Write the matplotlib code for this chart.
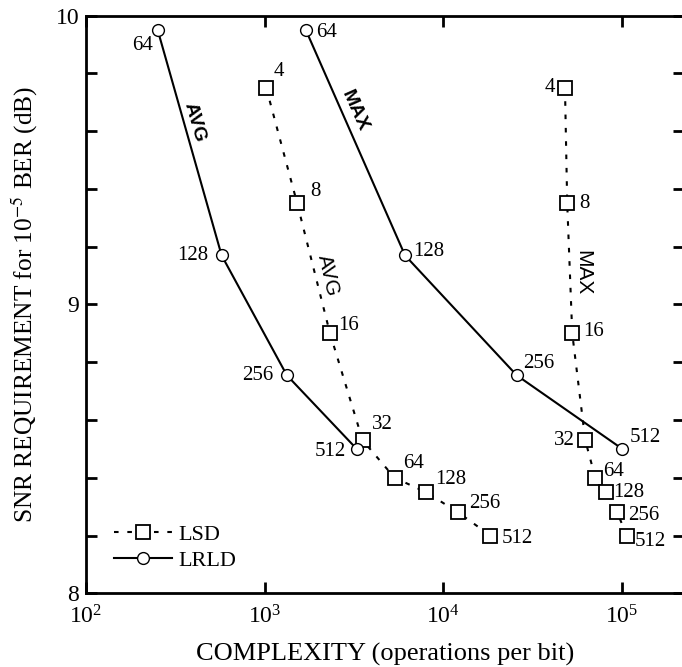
import matplotlib
matplotlib.use("Agg")
import matplotlib.pyplot as plt
from matplotlib.ticker import FixedLocator, NullLocator, LogLocator, LogFormatterMathtext

plt.rcParams["font.family"] = ["Liberation Serif", "DejaVu Serif"]
plt.rcParams["mathtext.fontset"] = "stix"

# data
lsd_labels = ["4", "8", "16", "32", "64", "128", "256", "512"]
lsd_snr = [9.75, 9.35, 8.90, 8.53, 8.40, 8.35, 8.28, 8.20]
lsd_avg_cx = [1020, 1520, 2320, 3530, 5330, 8000, 12100, 18300]
lsd_max_cx = [47900, 49300, 52600, 62200, 70800, 81600, 94000, 106000]

lrld_labels = ["64", "128", "256", "512"]
lrld_snr = [9.95, 9.17, 8.755, 8.50]
lrld_avg_cx = [252, 574, 1330, 3270]
lrld_max_cx = [1700, 6100, 25700, 100200]

# label offsets in pixels (dx, dy, ha)
lrld_avg_off = [(-5, -15, "right"), (-13, 0, "right"), (-13, 0, "right"), (-11, -3, "right")]
lrld_max_off = [(10, -2, "left"), (8, 4, "left"), (6, 12, "left"), (7, 11, "left")]
lsd_avg_off = [(7, 16, "left"), (13, 12, "left"), (8, 8, "left"), (9, 16, "left"),
               (9, 14, "left"), (9, 13, "left"), (11, 9, "left"), (11, -3, "left")]
lsd_max_off = [(-10, 0, "right"), (12, 0, "left"), (11, 2, "left"), (-10, 0, "right"),
               (8, 6, "left"), (7, 0, "left"), (11, -3, "left"), (8, -6, "left")]

fig = plt.figure(figsize=(6.82, 6.67), dpi=100)
ax = fig.add_axes([86 / 682, 1 - 593.3 / 667, 598 / 682, 577.6 / 667])

dots = (0, (2.2, 4.2))
sq = dict(marker="s", ms=9.5, mfc="white", mec="black", mew=1.3)
circ = dict(marker="o", ms=8.5, mfc="white", mec="black", mew=1.0)

ax.plot(lsd_avg_cx, lsd_snr, color="black", lw=1.5, ls=dots, label="LSD", **sq)
ax.plot(lsd_max_cx, lsd_snr, color="black", lw=1.5, ls=dots, **sq)
ax.plot(lrld_avg_cx, lrld_snr, color="black", lw=1.5, label="LRLD", **circ)
ax.plot(lrld_max_cx, lrld_snr, color="black", lw=1.5, **circ)


def put_labels(xs, ys, labels, offs):
    for x, y, t, (dx, dy, ha) in zip(xs, ys, labels, offs):
        ax.annotate(t, (x, y), xytext=(dx, dy), textcoords="offset pixels",
                    ha=ha, va="center", fontsize=15)


put_labels(lrld_avg_cx, lrld_snr, lrld_labels, lrld_avg_off)
put_labels(lrld_max_cx, lrld_snr, lrld_labels, lrld_max_off)
put_labels(lsd_avg_cx, lsd_snr, lsd_labels, lsd_avg_off)
put_labels(lsd_max_cx, lsd_snr, lsd_labels, lsd_max_off)

# curve names
sans = ["Liberation Sans", "DejaVu Sans"]
ax.text(407, 9.63, "AVG", rotation=-74, ha="center", va="center", fontsize=14,
        fontweight="bold", family=sans)
ax.text(3200, 9.67, "MAX", rotation=-66, ha="center", va="center", fontsize=14,
        fontweight="bold", family=sans)
ax.text(2260, 9.10, "AVG", rotation=-77, ha="center", va="center", fontsize=15, family=sans)
ax.text(60400, 9.11, "MAX", rotation=-90, ha="center", va="center", fontsize=15, family=sans)

ax.set_xscale("log")
ax.set_xlim(100, 10 ** (2 + 598 / 178.7))
ax.set_ylim(8, 10)
ax.xaxis.set_major_locator(LogLocator(base=10, numticks=10))
ax.xaxis.set_major_formatter(LogFormatterMathtext())
ax.xaxis.set_minor_locator(NullLocator())
ax.yaxis.set_major_locator(FixedLocator([8, 9, 10]))
ax.yaxis.set_minor_locator(FixedLocator([8.2, 8.4, 8.6, 8.8, 9.2, 9.4, 9.6, 9.8]))
ax.set_yticklabels(["8", "9", "10"])

ax.tick_params(which="both", direction="in", top=True, right=True, width=2,
               length=8, labelsize=17, pad=5)
ax.tick_params(axis="x", pad=9)
for s in ax.spines.values():
    s.set_linewidth(2)

ax.set_xlabel("COMPLEXITY (operations per bit)", fontsize=19, labelpad=10)
ax.set_ylabel("SNR REQUIREMENT for 10$^{-5}$ BER (dB)", fontsize=18.3, labelpad=11)

ax.legend(loc="lower left", bbox_to_anchor=(0.028, 0.02), frameon=False, fontsize=16,
          handlelength=2.6, handletextpad=0.3, labelspacing=0.22, borderpad=0)

fig.savefig("out.png", dpi=100)
